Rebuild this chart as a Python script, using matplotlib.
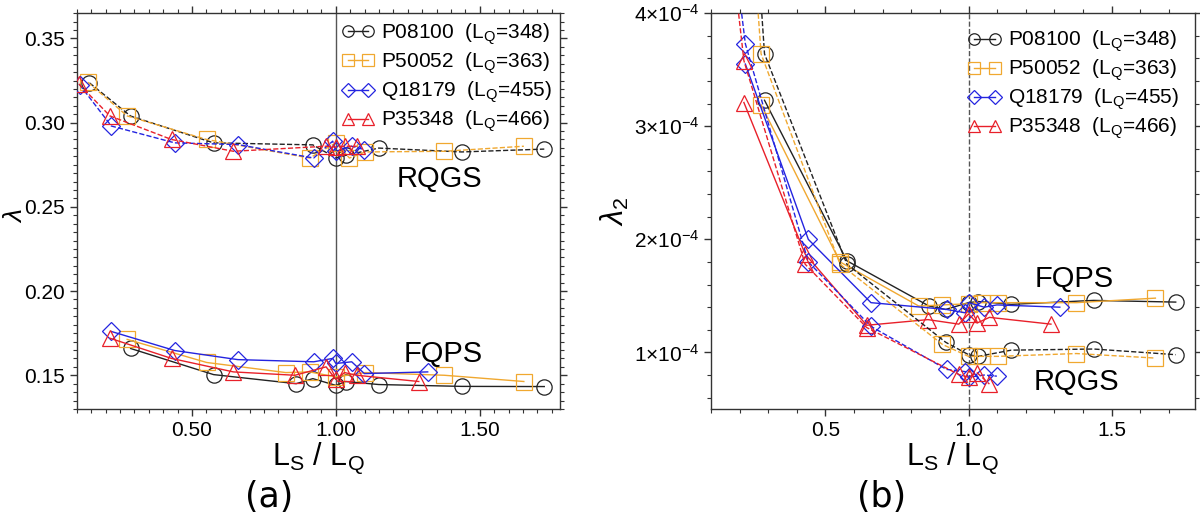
import matplotlib
matplotlib.use("Agg")
import matplotlib.pyplot as plt
from matplotlib.ticker import MultipleLocator, FuncFormatter

plt.rcParams["font.family"] = ["Liberation Sans", "DejaVu Sans"]
plt.rcParams["mathtext.fontset"] = "custom"
plt.rcParams["mathtext.rm"] = "Liberation Sans"
plt.rcParams["mathtext.it"] = "Liberation Sans:italic"
plt.rcParams["mathtext.bf"] = "Liberation Sans:bold"

# ---- data ------------------------------------------------------------------
PROTEINS = ["P08100", "P50052", "Q18179", "P35348"]
LQ = [348, 363, 455, 466]
COLORS = ["#222222", "#f0a830", "#2424e0", "#e8202a"]
MARKERS = ["o", "s", "D", "^"]

# (a) lambda, FQPS (solid)
fq_a_x = [
    [0.287, 0.575, 0.862, 0.920, 1.0, 1.034, 1.149, 1.437, 1.724],
    [0.275, 0.551, 0.826, 0.909, 1.0, 1.102, 1.377, 1.653],
    [0.220, 0.440, 0.659, 0.923, 0.989, 1.0, 1.055, 1.099, 1.319],
    [0.215, 0.429, 0.644, 0.858, 0.966, 1.0, 1.030, 1.073, 1.288],
]
fq_a_y = [
    [0.1659, 0.1504, 0.1450, 0.1480, 0.1440, 0.1463, 0.1445, 0.1434, 0.1433],
    [0.1713, 0.1576, 0.1516, 0.1520, 0.1490, 0.1516, 0.1500, 0.1463],
    [0.1760, 0.1647, 0.1593, 0.1580, 0.1600, 0.1570, 0.1580, 0.1510, 0.1520],
    [0.1720, 0.1600, 0.1520, 0.1500, 0.1550, 0.1475, 0.1516, 0.1500, 0.1463],
]
# (a) lambda, RQGS (dashed)
rq_a_x = [
    [0.144, 0.287, 0.575, 0.920, 1.0, 1.034, 1.149, 1.437, 1.724],
    [0.138, 0.275, 0.551, 0.909, 1.0, 1.047, 1.102, 1.377, 1.653],
    [0.110, 0.220, 0.440, 0.659, 0.923, 0.989, 1.0, 1.055, 1.099],
    [0.107, 0.215, 0.429, 0.644, 0.966, 1.0, 1.030, 1.073],
]
rq_a_y = [
    [0.3236, 0.3039, 0.2880, 0.2868, 0.2790, 0.2806, 0.2849, 0.2826, 0.2843],
    [0.3240, 0.3040, 0.2900, 0.2790, 0.2880, 0.2790, 0.2826, 0.2830, 0.2860],
    [0.3225, 0.2980, 0.2880, 0.2870, 0.2790, 0.2890, 0.2830, 0.2860, 0.2840],
    [0.3230, 0.3040, 0.2900, 0.2830, 0.2860, 0.2855, 0.2860, 0.2860],
]

# (b) lambda_2 (units of 1e-4), FQPS (solid)
fq_b_x = [
    [0.287, 0.575, 0.862, 0.920, 1.0, 1.034, 1.149, 1.437, 1.724],
    [0.275, 0.551, 0.826, 0.909, 1.0, 1.047, 1.102, 1.377, 1.653],
    [0.220, 0.440, 0.659, 0.923, 0.989, 1.0, 1.055, 1.099, 1.319],
    [0.215, 0.429, 0.644, 0.858, 0.966, 1.0, 1.030, 1.073, 1.288],
]
fq_b_y = [
    [3.23, 1.81, 1.41, 1.38, 1.44, 1.45, 1.425, 1.46, 1.445],
    [3.19, 1.80, 1.41, 1.42, 1.43, 1.44, 1.44, 1.44, 1.48],
    [3.55, 2.00, 1.44, 1.38, 1.35, 1.44, 1.40, 1.42, 1.40],
    [3.21, 1.87, 1.24, 1.29, 1.25, 1.34, 1.26, 1.31, 1.25],
]
# (b) lambda_2 (units of 1e-4), RQGS (dashed)
rq_b_x = [
    [0.144, 0.287, 0.575, 0.920, 1.0, 1.034, 1.149, 1.437, 1.724],
    [0.138, 0.275, 0.551, 0.909, 1.0, 1.047, 1.102, 1.377, 1.653],
    [0.110, 0.220, 0.440, 0.659, 0.923, 0.989, 1.0, 1.055, 1.099],
    [0.107, 0.215, 0.429, 0.644, 0.966, 1.0, 1.030, 1.073],
]
rq_b_y = [
    [9.0, 3.64, 1.78, 1.09, 0.98, 0.965, 1.02, 1.03, 0.98],
    [8.5, 3.64, 1.78, 1.07, 0.965, 0.965, 0.965, 0.99, 0.95],
    [6.0, 3.73, 1.80, 1.23, 0.85, 0.83, 0.78, 0.80, 0.79],
    [6.0, 3.58, 1.78, 1.22, 0.805, 0.78, 0.82, 0.72],
]

MS = 11
LEG_FS = 15


def style_axes(ax):
    for side in ("top", "right", "bottom", "left"):
        ax.spines[side].set_color("#333333")
        ax.spines[side].set_linewidth(1.0)
    ax.tick_params(which="both", direction="out", top=True, right=True,
                   labeltop=False, labelright=False, colors="#333333",
                   labelcolor="black", labelsize=15)
    ax.tick_params(which="major", length=5, width=1.0)
    ax.tick_params(which="minor", length=3, width=0.8)


def draw_series(ax, xs, ys, ls, with_label, scale=1.0):
    for i in range(len(PROTEINS)):
        lab = None
        if with_label:
            lab = rf"{PROTEINS[i]}  (L$_\mathrm{{Q}}$={LQ[i]})"
        ax.plot(xs[i], [v * scale for v in ys[i]], linestyle=ls, color=COLORS[i],
                lw=1.0, marker=MARKERS[i], ms=MS if MARKERS[i] != "D" else MS - 1.5,
                mfc="none", mec=COLORS[i], mew=0.9, label=lab, zorder=3)


def add_legend(ax, pad):
    ax.legend(loc="upper right", frameon=False, fontsize=LEG_FS, numpoints=2,
              markerscale=0.75, handlelength=1.6, handletextpad=0.3,
              labelspacing=0.17, borderaxespad=pad, borderpad=0.2)


fig = plt.figure(figsize=(12, 5.27), dpi=100)
ax1 = fig.add_axes([0.064, 0.224, 0.403, 0.751])
ax2 = fig.add_axes([0.5925, 0.224, 0.403, 0.751])

# ---- panel (a) -------------------------------------------------------------
ax1.axvline(1.0, color="#555555", lw=1.0, zorder=1)
draw_series(ax1, fq_a_x, fq_a_y, "-", True)
draw_series(ax1, rq_a_x, rq_a_y, "--", False)
ax1.set_xlim(0.10, 1.78)
ax1.set_ylim(0.13, 0.365)
ax1.xaxis.set_major_locator(MultipleLocator(0.5))
ax1.xaxis.set_minor_locator(MultipleLocator(0.05))
ax1.yaxis.set_major_locator(MultipleLocator(0.05))
ax1.yaxis.set_minor_locator(MultipleLocator(0.005))
ax1.xaxis.set_major_formatter(FuncFormatter(lambda v, p: f"{v:.2f}"))
ax1.yaxis.set_major_formatter(FuncFormatter(lambda v, p: f"{v:.2f}"))
style_axes(ax1)
# y label placed by hand so it sits in the narrow left margin
fig.text(0.0125, 0.59, r"$\lambda$", fontsize=19, rotation=90,
         ha="center", va="center")
ax1.set_xlabel(r"L$_\mathrm{S}$ / L$_\mathrm{Q}$", fontsize=22, labelpad=0)
ax1.text(0.75, 0.58, "RQGS", transform=ax1.transAxes, fontsize=21,
         ha="center", va="center")
ax1.text(0.758, 0.139, "FQPS", transform=ax1.transAxes, fontsize=21,
         ha="center", va="center")
add_legend(ax1, 0.2)
fig.text(0.224, 0.057, "(a)", fontsize=25, ha="center", va="center",
         family=["DejaVu Sans"])

# ---- panel (b) -------------------------------------------------------------
ax2.axvline(1.0, color="#555555", lw=1.0, ls="--", zorder=1)
draw_series(ax2, fq_b_x, fq_b_y, "-", True, 1e-4)
draw_series(ax2, rq_b_x, rq_b_y, "--", False, 1e-4)
ax2.set_xlim(0.10, 1.79)
ax2.set_ylim(0.5e-4, 4.0e-4)
ax2.xaxis.set_major_locator(MultipleLocator(0.5))
ax2.xaxis.set_minor_locator(MultipleLocator(0.1))
ax2.yaxis.set_major_locator(MultipleLocator(1e-4))
ax2.yaxis.set_minor_locator(MultipleLocator(0.2e-4))
ax2.xaxis.set_major_formatter(FuncFormatter(lambda v, p: f"{v:.1f}"))
ax2.yaxis.set_major_formatter(
    FuncFormatter(lambda v, p: rf"${round(v * 1e4):d}{{\times}}10^{{-4}}$"))
style_axes(ax2)
ax2.set_ylabel(r"$\lambda_2$", fontsize=22)
ax2.yaxis.set_label_coords(-0.165, 0.5)
ax2.set_xlabel(r"L$_\mathrm{S}$ / L$_\mathrm{Q}$", fontsize=22, labelpad=0)
ax2.text(0.75, 0.328, "FQPS", transform=ax2.transAxes, fontsize=21,
         ha="center", va="center")
ax2.text(0.755, 0.068, "RQGS", transform=ax2.transAxes, fontsize=21,
         ha="center", va="center")
add_legend(ax2, 0.55)
fig.text(0.735, 0.057, "(b)", fontsize=25, ha="center", va="center",
         family=["DejaVu Sans"])

fig.savefig("out.png", dpi=100)
